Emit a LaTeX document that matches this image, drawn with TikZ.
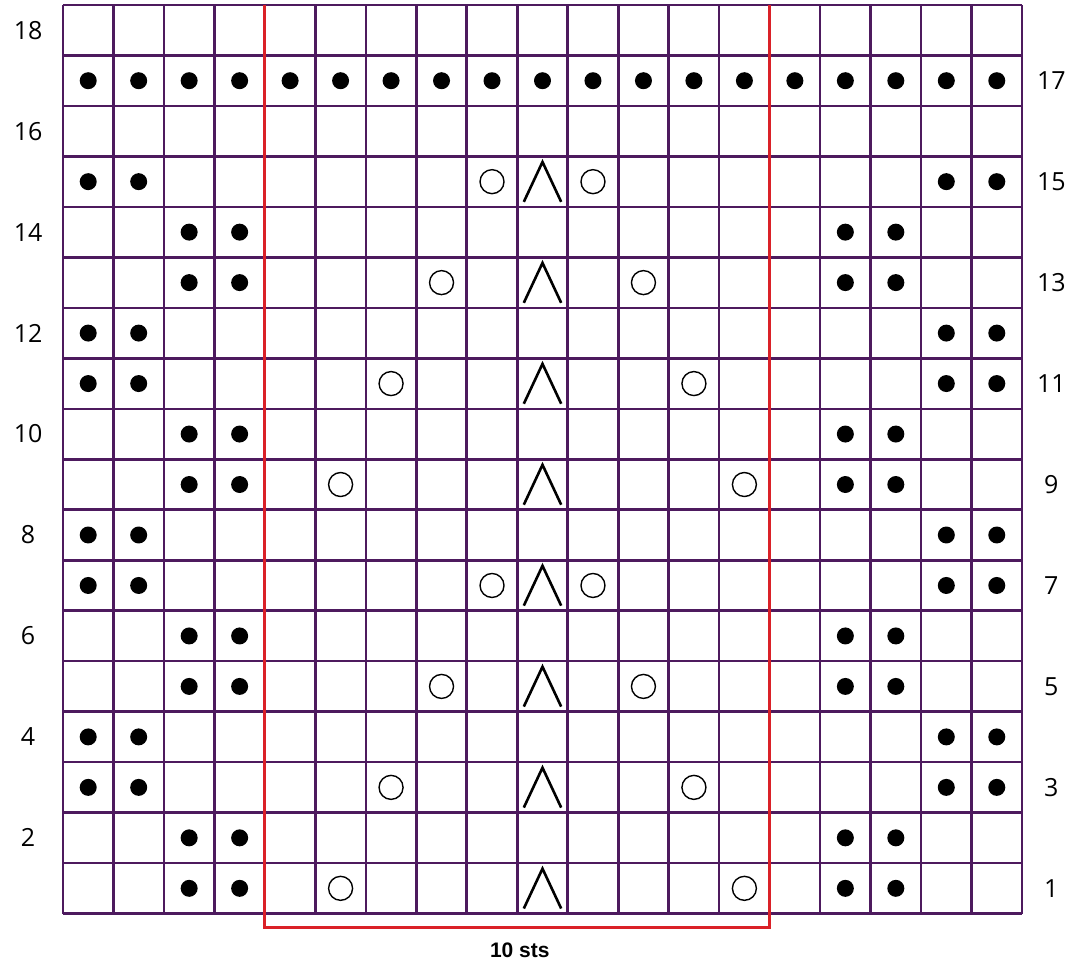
\documentclass[tikz,border=0pt]{standalone}
\usepackage{fontspec}
\setmainfont{Open Sans}
\newfontfamily\stsfont{Liberation Sans}
\usetikzlibrary{positioning,calc}
\definecolor{chartpurple}{HTML}{4D1A5E}
\definecolor{repeatred}{HTML}{DA2128}
\tikzset{
  gridline/.style={draw=chartpurple, line width=2.6pt},
  repeatline/.style={draw=repeatred, line width=3.2pt},
  purl/.style={circle, fill=black, inner sep=0pt, minimum size=17pt},
  yarnover/.style={circle, draw=black, line width=1.4pt, inner sep=0pt, minimum size=24pt},
  decline/.style={draw=black, line width=2.6pt, line join=miter},
  rowlabel/.style={font=\fontsize{25}{25}\selectfont},
}

\begin{document}
\begin{tikzpicture}[x=50.5pt, y=50.5pt]
  \useasboundingbox (-1.2475,-0.970) rectangle (19.911,18.099);
  \draw[gridline] (0,0) grid[step=1] (19,18);
  % purl stitches
  \foreach \c in {1,...,19} \node[purl] (dot-17-\c) at (\c-0.5,16.5) {};
  \foreach \r in {3,4,7,8,11,12,15}
    \foreach \c in {1,2,18,19} \node[purl] (dot-\r-\c) at (\c-0.5,\r-0.5) {};
  \foreach \r in {1,2,5,6,9,10,13,14}
    \foreach \c in {3,4,16,17} \node[purl] (dot-\r-\c) at (\c-0.5,\r-0.5) {};
  % yarn overs and central decrease
  \foreach \r/\d in {1/4,3/3,5/2,7/1,9/4,11/3,13/2,15/1} {
    \node[yarnover] (yo-\r-l) at (9.5-\d,\r-0.5) {};
    \node[yarnover] (yo-\r-r) at (9.5+\d,\r-0.5) {};
    \draw[decline] (9.13,\r-0.9) -- (9.5,\r-0.11) -- (9.87,\r-0.9);
  }
  % row numbers
  \foreach \r in {2,4,...,18} \node[rowlabel] (row\r) at (-0.69,\r-0.5) {\r};
  \foreach \r in {1,3,...,17} \node[rowlabel] (row\r) at (19.58,\r-0.5) {\r};
  % pattern repeat
  \coordinate (rep-tl) at (4,18);
  \coordinate (rep-tr) at (14,18);
  \draw[repeatline] (rep-tl) -- (4,-0.277) -- (14,-0.277) -- (rep-tr);
  \node[font=\stsfont\bfseries\fontsize{21}{21}\selectfont] (repeat) at (9.05,-0.73) {10 sts};
\end{tikzpicture}
\end{document}
